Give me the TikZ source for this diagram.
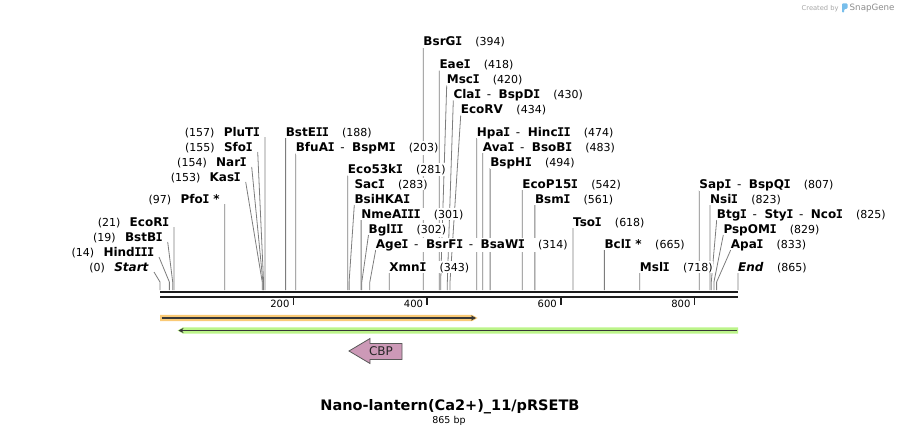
\documentclass[tikz,border=0pt]{standalone}
\usepackage{fontspec}
\setmainfont{DejaVu Sans}
\newfontfamily\monofam{DejaVu Sans Mono}
\usetikzlibrary{arrows.meta}

\definecolor{leadgray}{RGB}{125,125,125}
\definecolor{axisdark}{RGB}{30,30,30}
\definecolor{orangehalo}{RGB}{250,202,118}
\definecolor{greenhalo}{RGB}{188,244,138}
\definecolor{featline}{RGB}{55,55,55}
\definecolor{cbpfill}{RGB}{204,153,183}
\definecolor{logoblue}{RGB}{120,190,235}

% cut position after / before an enzyme name
\newcommand{\pos}[1]{\hspace{13.5pt}{\fontsize{11}{13}\selectfont\mdseries(#1)}}
\newcommand{\posL}[1]{{\fontsize{11}{13}\selectfont\mdseries(#1)}\hspace{9.3pt}}
% serifed capital I, dash between isoschizomers
\newcommand{\Iser}{\kern-0.45pt{\monofam I}\kern-0.45pt}
\newcommand{\sepd}{\hspace{6pt}{\mdseries-}\hspace{7.5pt}}

\pgfdeclarelayer{background}
\pgfsetlayers{background,main}

\tikzset{
  enz/.style={font=\fontsize{12}{14}\selectfont\bfseries, fill=white, inner xsep=0pt, inner ysep=1pt},
  enzR/.style={enz, anchor=base west},
  enzL/.style={enz, anchor=base east},
  leader/.style={draw=leadgray, line width=0.8pt},
  axisline/.style={draw=axisdark, line width=2.3pt},
  tickmark/.style={draw=axisdark, line width=1.6pt},
  ticklabel/.style={font=\fontsize{10}{12}\selectfont, anchor=base east, inner sep=0pt},
  featarrow/.style={draw=featline, line width=1.3pt, -{Stealth[length=5pt,width=5pt]}},
  cbpshape/.style={draw=black!65, fill=cbpfill, line width=0.8pt},
}

\begin{document}
\begin{tikzpicture}[x=1pt, y=-1pt]
\useasboundingbox (0,0) rectangle (899,436);

% sites on the sequence (bp -> x)
\foreach \bp in {0,14,19,21,97,153,154,155,157,188,203,281,283,301,302,314,343,394,418,420,430,434,474,483,494,542,561,618,665,718,807,823,825,829,833,865}{
  \coordinate (s\bp) at ({160+\bp*0.66821},290);
  \coordinate (k\bp) at ({160+\bp*0.66821},282);
}

% Sequence axis
\draw[axisline] (160,292.2) -- (738,292.2);
\draw[axisline, line width=2.1pt] (160,296.7) -- (738,296.7);
\foreach \v/\x in {200/293.64, 400/427.28, 600/560.93, 800/694.57}{
  \draw[tickmark] (\x,296) -- (\x,304.5);
  \node[ticklabel] (t\v) at (\x-4,307.7) {\v};
}

% Left enzymes
\node[enzL] (Start) at (149,271) {\posL{0}\textit{Start}};
\node[enzL] (HindIII) at (154,256) {\posL{14}Hind\Iser\Iser\Iser};
\node[enzL] (BstBI) at (162.7,241) {\posL{19}BstB\Iser};
\node[enzL] (EcoRI) at (169.03,226) {\posL{21}EcoR\Iser};
\node[enzL] (PfoI) at (219.82,203) {\posL{97}Pfo\Iser{} *};
\node[enzL] (KasI) at (240.7,181) {\posL{153}Kas\Iser};
\node[enzL] (NarI) at (246.7,166) {\posL{154}Nar\Iser};
\node[enzL] (SfoI) at (252.7,151) {\posL{155}Sfo\Iser};
\node[enzL] (PluTI) at (259.91,136) {\posL{157}PluT\Iser};

% Middle enzymes
\node[enzR] (BstEII) at (285.62,136) {BstE\Iser\Iser\pos{188}};
\node[enzR] (BfuAI) at (295.65,151.5) {BfuA\Iser\sepd BspM\Iser\pos{203}};
\node[enzR] (Eco53kI) at (347.77,173.5) {Eco53k\Iser\pos{281}};
\node[enzR] (SacI) at (354.3,188) {Sac\Iser\pos{283}};
\node[enzR] (BsiHKAI) at (354.3,203) {BsiHKA\Iser};
\node[enzR] (NmeAIII) at (361.13,218) {NmeA\Iser\Iser\Iser\pos{301}};
\node[enzR] (BglII) at (368.5,233) {Bgl\Iser\Iser\pos{302}};
\node[enzR] (AgeI) at (375.7,248) {Age\Iser\sepd BsrF\Iser\sepd BsaW\Iser\pos{314}};
\node[enzR] (XmnI) at (389.2,271) {Xmn\Iser\pos{343}};
\node[enzR] (BsrGI) at (423.28,46) {BsrG\Iser\pos{394}};
\node[enzR] (EaeI) at (439.31,68.5) {Eae\Iser\pos{418}};
\node[enzR] (MscI) at (446.7,83.5) {Msc\Iser\pos{420}};
\node[enzR] (ClaI) at (453.3,98.5) {Cla\Iser\sepd BspD\Iser\pos{430}};
\node[enzR] (EcoRV) at (460.7,113.5) {EcoRV\pos{434}};
\node[enzR] (HpaI) at (476.73,136) {Hpa\Iser\sepd Hinc\Iser\Iser\pos{474}};
\node[enzR] (AvaI) at (482.75,151) {Ava\Iser\sepd BsoB\Iser\pos{483}};
\node[enzR] (BspHI) at (490.1,166) {BspH\Iser\pos{494}};
\node[enzR] (EcoP15I) at (522.17,188) {EcoP15\Iser\pos{542}};
\node[enzR] (BsmI) at (534.87,203) {Bsm\Iser\pos{561}};
\node[enzR] (TsoI) at (572.95,226) {Tso\Iser\pos{618}};
\node[enzR] (BclI) at (604.36,248) {Bcl\Iser{} *\pos{665}};
\node[enzR] (MslI) at (639.77,271) {Msl\Iser\pos{718}};

% Right enzymes
\node[enzR] (SapI) at (699.25,188) {Sap\Iser\sepd BspQ\Iser\pos{807}};
\node[enzR] (NsiI) at (709.94,203) {Nsi\Iser\pos{823}};
\node[enzR] (BtgI) at (716.7,218) {Btg\Iser\sepd Sty\Iser\sepd Nco\Iser\pos{825}};
\node[enzR] (PspOMI) at (723.3,233) {PspOM\Iser\pos{829}};
\node[enzR] (ApaI) at (730.7,248) {Apa\Iser\pos{833}};
\node[enzR] (End) at (738,271) {\textit{End}\pos{865}};

% Leaders, behind the labels
\begin{pgfonlayer}{background}
\foreach \n/\s in {Start/0, HindIII/14, BstBI/19, EcoRI/21, PfoI/97, KasI/153, NarI/154, SfoI/155, PluTI/157}
  \draw[leader] ([xshift=5pt,yshift=-1pt]\n.base east) -- (k\s) -- (s\s);
\foreach \n/\s in {BstEII/188, BfuAI/203, Eco53kI/281, BsiHKAI/283, NmeAIII/301, BglII/302, AgeI/314, XmnI/343,
    BsrGI/394, EaeI/418, MscI/420, ClaI/430, EcoRV/434, HpaI/474, AvaI/483, BspHI/494, EcoP15I/542,
    BsmI/561, TsoI/618, BclI/665, MslI/718, SapI/807, NsiI/823, BtgI/825, PspOMI/829, ApaI/833, End/865}
  \draw[leader] ([yshift=-2pt]\n.base west) -- (k\s) -- (s\s);
\end{pgfonlayer}

% Features
\fill[orangehalo] (160,314.8) -- (472,314.8) -- (477.5,318) -- (472,321.2) -- (160,321.2) -- cycle;
\coordinate (orA) at (161.5,318);
\coordinate (orB) at (476,318);
\draw[featarrow] (orA) -- (orB);
\fill[greenhalo] (738,327.3) -- (183,327.3) -- (177.5,330.5) -- (183,333.7) -- (738,333.7) -- cycle;
\coordinate (grA) at (737,330.5);
\coordinate (grB) at (178.5,330.5);
\draw[featarrow] (grA) -- (grB);

% CBP
\draw[cbpshape] (402,343.5) -- (370,343.5) -- (370,338.5) -- (349,351) -- (370,363.5) -- (370,359.5) -- (402,359.5) -- cycle;
\node[font=\fontsize{12}{14}\selectfont, text=black!85, inner sep=0pt] (CBP) at (381,351) {CBP};

% Title
\node[font=\fontsize{14.5}{17}\selectfont\bfseries, anchor=base, inner sep=0pt] (title) at (450,410.5) {Nano-lantern(Ca2+)\_11/pRSETB};
\node[font=\fontsize{9.5}{11}\selectfont, anchor=base, inner sep=0pt] (size) at (449,423.5) {865 bp};

% Credit
\node[font=\fontsize{6.7}{8}\selectfont, text=black!35, anchor=base west, inner sep=0pt] (credit) at (801.5,11) {Created by};
\fill[logoblue, rounded corners=0.8pt] (842,3.5) -- (847.5,3.5) -- (847.5,8.5) -- (844.2,9.3) -- (844.2,12.5) -- (842,12.5) -- cycle;
\node[font=\fontsize{8.7}{10}\selectfont, text=black!45, anchor=base west, inner sep=0pt] (brand) at (849.5,11) {SnapGene};
\end{tikzpicture}
\end{document}
